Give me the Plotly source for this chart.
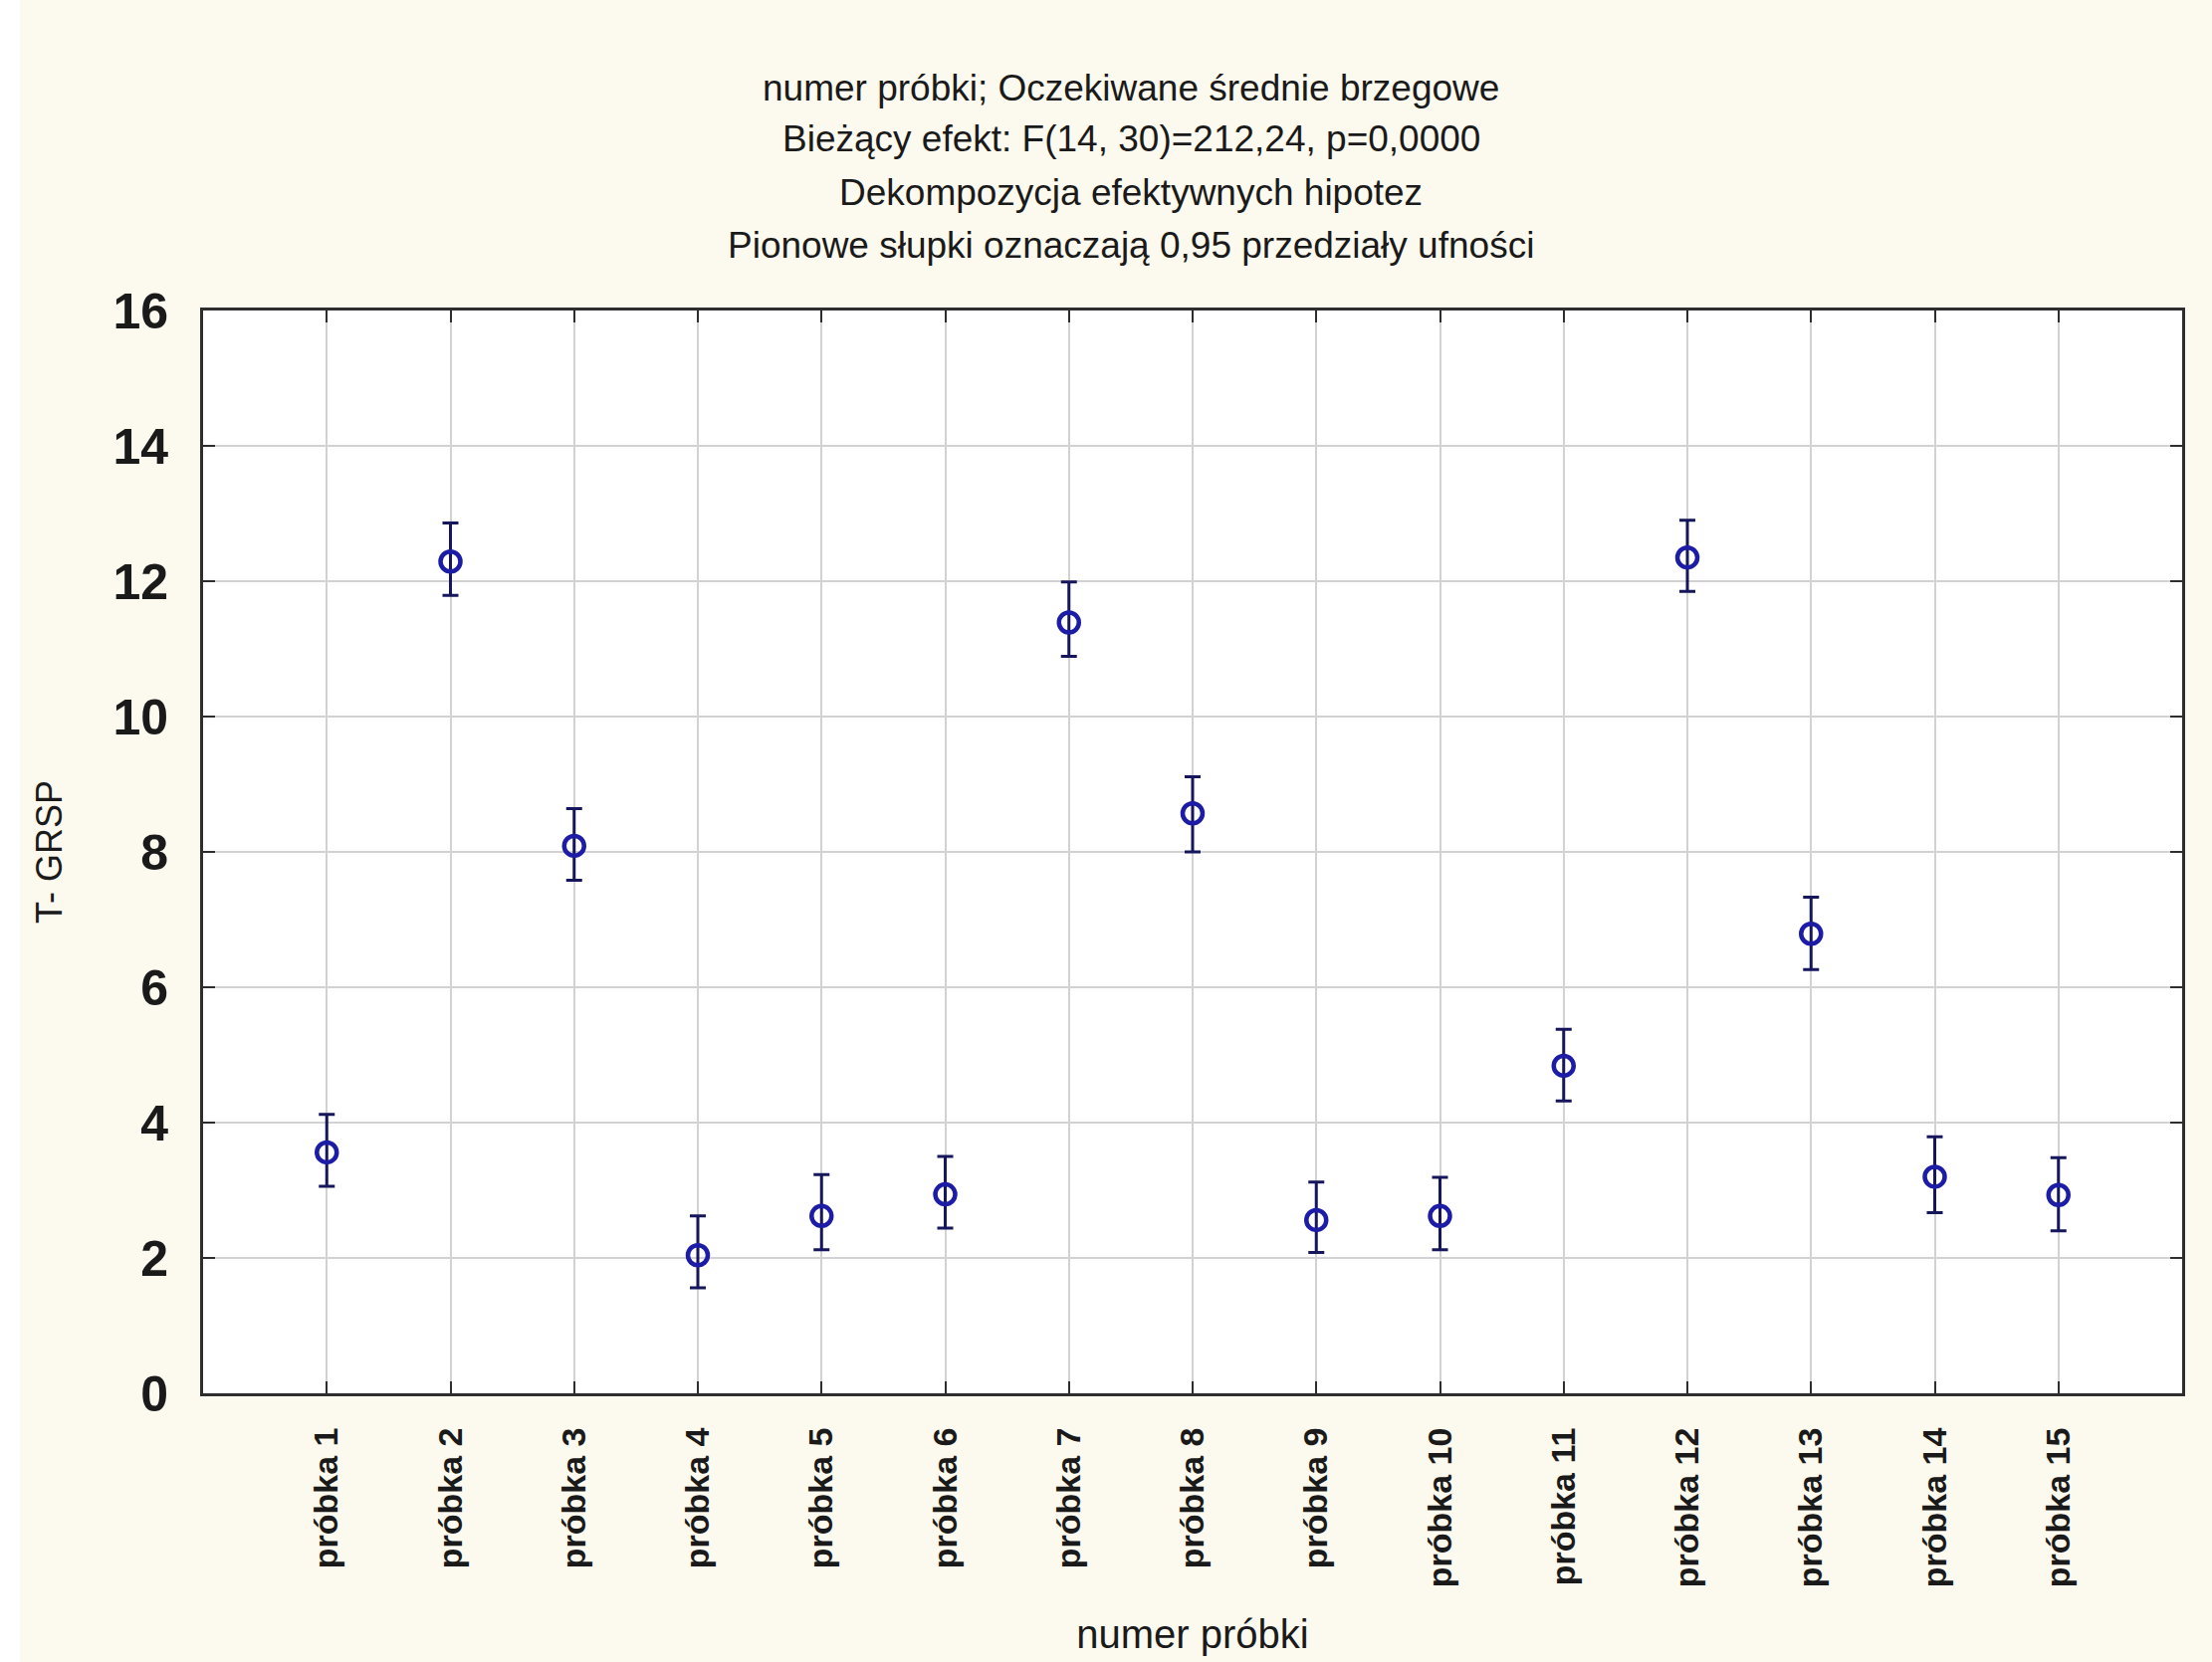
import plotly.graph_objects as go

# Marginal means of T-GRSP per sample with 0.95 confidence limits
samples = [f"próbka {i}" for i in range(1, 16)]
sample_pos = list(range(1, 16))
means = [3.56, 12.29, 8.09, 2.04, 2.62, 2.94, 11.39, 8.57, 2.56, 2.62, 4.84, 12.35, 6.79, 3.20, 2.93]
ci_upper = [4.12, 12.86, 8.64, 2.62, 3.23, 3.50, 11.99, 9.11, 3.12, 3.19, 5.38, 12.90, 7.33, 3.79, 3.48]
ci_lower = [3.06, 11.79, 7.58, 1.56, 2.12, 2.44, 10.89, 8.00, 2.08, 2.12, 4.32, 11.85, 6.26, 2.67, 2.40]
y_ticks = [0, 2, 4, 6, 8, 10, 12, 14, 16]

title_lines = [
    "numer próbki; Oczekiwane średnie brzegowe",
    "Bieżący efekt: F(14, 30)=212,24, p=0,0000",
    "Dekompozycja efektywnych hipotez",
    "Pionowe słupki oznaczają 0,95 przedziały ufności",
]

W, H = 2222, 1670
L, R, T, B = 204, 30, 312, 270
plot_w = W - L - R
plot_h = H - T - B

FONT = "Liberation Sans, Arial, sans-serif"
BG = "#fcf9ee"
AX = "#2e2e2e"
GRID = "#d2d2d2"
TXT = "#1a1a1a"

err_plus = [u - m for u, m in zip(ci_upper, means)]
err_minus = [m - l for m, l in zip(means, ci_lower)]

fig = go.Figure()
fig.add_trace(go.Scatter(
    x=sample_pos,
    y=means,
    mode="markers",
    marker=dict(symbol="circle-open", size=20, color="#1c1ca6",
                line=dict(width=4.5, color="#1c1ca6")),
    error_y=dict(type="data", symmetric=False, array=err_plus, arrayminus=err_minus,
                 color="#16165c", thickness=3, width=8),
    showlegend=False,
    hoverinfo="x+y",
))

# Four-line heading above the plot
title_y_px = [88, 140, 193, 247]
title_x = (1136 - L) / plot_w
for line, ypx in zip(title_lines, title_y_px):
    fig.add_annotation(
        text=line, xref="paper", yref="paper",
        x=title_x, y=1 + (T - ypx) / plot_h,
        xanchor="center", yanchor="middle", showarrow=False,
        font=dict(family=FONT, size=37, color=TXT),
    )

# Narrow white strip along the left edge of the page
fig.add_shape(type="rect", xref="paper", yref="paper",
              x0=-L / plot_w, x1=(20 - L) / plot_w, y0=-B / plot_h, y1=1 + T / plot_h,
              fillcolor="white", line=dict(width=0), layer="below")

fig.update_layout(
    width=W, height=H,
    margin=dict(l=L, r=R, t=T, b=B, pad=0),
    paper_bgcolor=BG,
    plot_bgcolor="white",
    font=dict(family=FONT, color=TXT),
    xaxis=dict(
        range=[0, 16],
        tickmode="array", tickvals=sample_pos, ticktext=samples,
        tickangle=-90,
        tickfont=dict(family=FONT, size=34, color=TXT, weight="bold"),
        ticks="inside", ticklen=12, tickwidth=2, tickcolor=AX,
        ticklabelstandoff=18,
        showgrid=True, gridcolor=GRID, gridwidth=2,
        showline=True, linecolor=AX, linewidth=3, mirror="ticks",
        zeroline=False,
        title=dict(text="numer próbki", font=dict(family=FONT, size=40, color=TXT),
                   standoff=34),
    ),
    yaxis=dict(
        range=[0, 16],
        tickmode="array", tickvals=y_ticks,
        tickfont=dict(family=FONT, size=50, color=TXT, weight="bold"),
        ticks="inside", ticklen=12, tickwidth=2, tickcolor=AX,
        ticklabelstandoff=22,
        showgrid=True, gridcolor=GRID, gridwidth=2,
        showline=True, linecolor=AX, linewidth=3, mirror="ticks",
        zeroline=False,
        title=dict(text="T- GRSP", font=dict(family=FONT, size=36, color=TXT),
                   standoff=40),
    ),
)

fig.write_html("out.html")
